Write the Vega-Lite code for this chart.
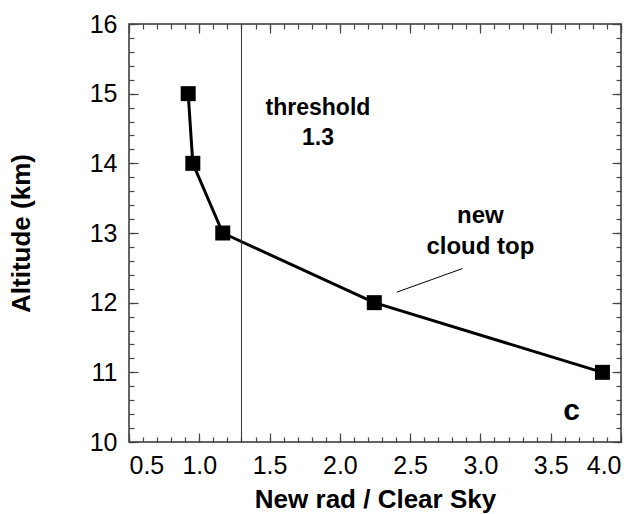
{
  "$schema": "https://vega.github.io/schema/vega-lite/v6.json",
  "width": 492,
  "height": 418,
  "autosize": {"type": "none"},
  "padding": {"left": 129, "top": 24, "right": 22, "bottom": 72},
  "background": "white",
  "config": {
    "view": {"stroke": "#333", "strokeWidth": 1.5},
    "font": "Liberation Sans",
    "axis": {"grid": false, "domain": false, "ticks": true, "tickColor": "#444", "tickWidth": 1.2, "labelColor": "black", "titleColor": "black", "labelFont": "Liberation Sans", "titleFont": "Liberation Sans"}
  },
  "datasets": {
    "profile": [
      {"ratio": 0.921, "altitude": 15},
      {"ratio": 0.954, "altitude": 14},
      {"ratio": 1.167, "altitude": 13},
      {"ratio": 2.245, "altitude": 12},
      {"ratio": 3.868, "altitude": 11}
    ]
  },
  "layer": [
    {
      "data": {"name": "profile"},
      "mark": {"type": "line", "color": "black", "strokeWidth": 3},
      "encoding": {
        "x": {"field": "ratio", "type": "quantitative", "scale": {"domain": [0.5, 4.0], "nice": false, "zero": false},
          "axis": {"orient": "bottom", "values": [0.5, 1.0, 1.5, 2.0, 2.5, 3.0, 3.5, 4.0], "format": ".1f", "offset": -9, "tickSize": 9, "labelFontSize": 25, "labelPadding": 11, "title": "New rad / Clear Sky", "titleFontSize": 26, "titleFontWeight": "bold", "titlePadding": 8}},
        "y": {"field": "altitude", "type": "quantitative", "scale": {"domain": [10, 16], "nice": false, "zero": false},
          "axis": {"orient": "left", "values": [10, 11, 12, 13, 14, 15, 16], "format": "d", "offset": -9, "tickSize": 9, "labelFontSize": 25, "labelPadding": 12, "title": "Altitude (km)", "titleFontSize": 26, "titleFontWeight": "bold", "titlePadding": 55}}
      }
    },
    {
      "data": {"name": "profile"},
      "mark": {"type": "square", "color": "black", "filled": true, "size": 225, "opacity": 1},
      "encoding": {
        "x": {"field": "ratio", "type": "quantitative",
          "axis": {"orient": "bottom", "values": [0.5,0.6,0.7,0.8,0.9,1.0,1.1,1.2,1.3,1.4,1.5,1.6,1.7,1.8,1.9,2.0,2.1,2.2,2.3,2.4,2.5,2.6,2.7,2.8,2.9,3.0,3.1,3.2,3.3,3.4,3.5,3.6,3.7,3.8,3.9,4.0], "offset": -5, "tickSize": 5, "labels": false, "title": null}},
        "y": {"field": "altitude", "type": "quantitative",
          "axis": {"orient": "left", "values": [10,10.2,10.4,10.6,10.8,11,11.2,11.4,11.6,11.8,12,12.2,12.4,12.6,12.8,13,13.2,13.4,13.6,13.8,14,14.2,14.4,14.6,14.8,15,15.2,15.4,15.6,15.8,16], "offset": -5, "tickSize": 5, "labels": false, "title": null}}
      }
    },
    {
      "data": {"values": [
        {"ratio": 1.844, "altitude": 14.694, "label": "threshold"},
        {"ratio": 1.844, "altitude": 14.264, "label": "1.3"}
      ]},
      "mark": {"type": "text", "fontSize": 23, "fontWeight": "bold", "baseline": "alphabetic", "align": "center", "color": "black"},
      "encoding": {
        "x": {"field": "ratio", "type": "quantitative",
          "axis": {"orient": "top", "values": [0.5, 1.0, 1.5, 2.0, 2.5, 3.0, 3.5, 4.0], "offset": -9, "tickSize": 9, "labels": false, "title": null}},
        "y": {"field": "altitude", "type": "quantitative",
          "axis": {"orient": "right", "values": [10, 11, 12, 13, 14, 15, 16], "offset": -9, "tickSize": 9, "labels": false, "title": null}},
        "text": {"field": "label"}
      }
    },
    {
      "data": {"values": [
        {"ratio": 3.0, "altitude": 13.145, "label": "new"},
        {"ratio": 3.0, "altitude": 12.70, "label": "cloud top"}
      ]},
      "mark": {"type": "text", "fontSize": 24, "fontWeight": "bold", "baseline": "alphabetic", "align": "center", "color": "black"},
      "encoding": {
        "x": {"field": "ratio", "type": "quantitative",
          "axis": {"orient": "top", "values": [0.5,0.6,0.7,0.8,0.9,1.0,1.1,1.2,1.3,1.4,1.5,1.6,1.7,1.8,1.9,2.0,2.1,2.2,2.3,2.4,2.5,2.6,2.7,2.8,2.9,3.0,3.1,3.2,3.3,3.4,3.5,3.6,3.7,3.8,3.9,4.0], "offset": -5, "tickSize": 5, "labels": false, "title": null}},
        "y": {"field": "altitude", "type": "quantitative",
          "axis": {"orient": "right", "values": [10,10.2,10.4,10.6,10.8,11,11.2,11.4,11.6,11.8,12,12.2,12.4,12.6,12.8,13,13.2,13.4,13.6,13.8,14,14.2,14.4,14.6,14.8,15,15.2,15.4,15.6,15.8,16], "offset": -5, "tickSize": 5, "labels": false, "title": null}},
        "text": {"field": "label"}
      }
    },
    {
      "data": {"values": [{"ratio": 3.649, "altitude": 10.318, "label": "c"}]},
      "mark": {"type": "text", "fontSize": 30, "fontWeight": "bold", "baseline": "alphabetic", "align": "center", "color": "black"},
      "encoding": {
        "x": {"field": "ratio", "type": "quantitative", "axis": null},
        "y": {"field": "altitude", "type": "quantitative", "axis": null},
        "text": {"field": "label"}
      }
    },
    {
      "data": {"values": [{"threshold": 1.3}]},
      "mark": {"type": "rule", "color": "#333", "strokeWidth": 1},
      "encoding": {
        "x": {"field": "threshold", "type": "quantitative", "axis": null}
      }
    },
    {
      "data": {"values": [{"x1": 2.404, "y1": 12.15, "x2": 2.873, "y2": 12.49}]},
      "mark": {"type": "rule", "color": "black", "strokeWidth": 1},
      "encoding": {
        "x": {"field": "x1", "type": "quantitative", "axis": null},
        "y": {"field": "y1", "type": "quantitative", "axis": null},
        "x2": {"field": "x2"},
        "y2": {"field": "y2"}
      }
    }
  ],
  "resolve": {"axis": {"x": "independent", "y": "independent"}}
}
